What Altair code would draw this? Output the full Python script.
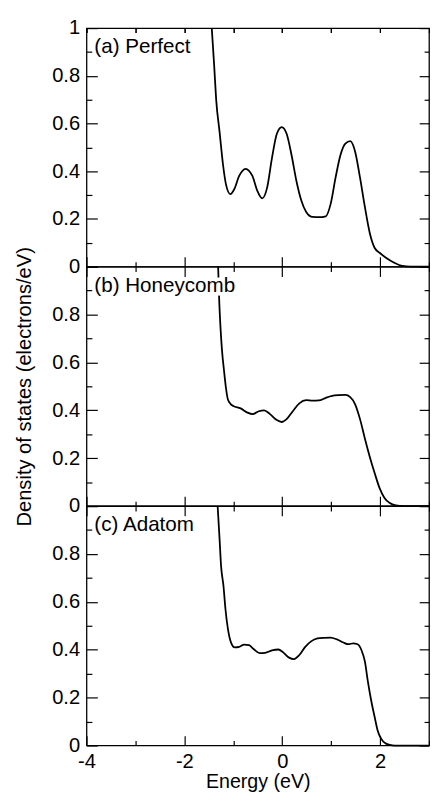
import altair as alt
import pandas as pd

# ---- data ----
E_PERFECT = [-1.44, -1.39, -1.35, -1.28, -1.21, -1.15, -1.06, -0.98, -0.88, -0.75,
             -0.61, -0.51, -0.41, -0.31, -0.21, -0.11, -0.01, 0.09, 0.19, 0.29,
             0.39, 0.49, 0.62, 0.75, 0.89, 0.99, 1.09, 1.19, 1.29, 1.39,
             1.49, 1.59, 1.69, 1.79, 1.89, 1.99, 2.12, 2.29, 2.45, 2.62, 3.0]
DOS_PERFECT = [1.0, 0.84, 0.70, 0.564, 0.427, 0.345, 0.304, 0.325, 0.38, 0.41,
               0.38, 0.318, 0.286, 0.33, 0.455, 0.557, 0.585, 0.557, 0.468, 0.359,
               0.277, 0.229, 0.208, 0.207, 0.211, 0.263, 0.373, 0.468, 0.516, 0.526,
               0.482, 0.373, 0.249, 0.14, 0.078, 0.058, 0.037, 0.016, 0.003, 0.0, 0.0]

E_HONEYCOMB = [-1.31, -1.29, -1.26, -1.23, -1.19, -1.15, -1.11, -1.05, -1.0, -0.85,
               -0.71, -0.6, -0.48, -0.37, -0.25, -0.11, -0.01, 0.09, 0.22, 0.35,
               0.49, 0.62, 0.75, 0.89, 1.02, 1.15, 1.29, 1.39, 1.49, 1.59,
               1.69, 1.79, 1.89, 1.99, 2.09, 2.19, 2.32, 2.49, 3.0]
DOS_HONEYCOMB = [1.0, 0.87, 0.74, 0.648, 0.566, 0.493, 0.445, 0.425, 0.418, 0.408,
                 0.39, 0.384, 0.396, 0.40, 0.384, 0.359, 0.351, 0.363, 0.397, 0.429,
                 0.442, 0.44, 0.441, 0.452, 0.46, 0.463, 0.464, 0.455, 0.425, 0.363,
                 0.281, 0.205, 0.137, 0.075, 0.034, 0.014, 0.003, 0.0, 0.0]

E_ADATOM = [-1.32, -1.28, -1.25, -1.2, -1.16, -1.11, -1.05, -0.97, -0.88, -0.78,
            -0.68, -0.58, -0.46, -0.35, -0.21, -0.08, 0.02, 0.14, 0.24, 0.35,
            0.47, 0.59, 0.72, 0.85, 0.99, 1.12, 1.25, 1.35, 1.45, 1.54,
            1.62, 1.69, 1.75, 1.82, 1.89, 1.95, 2.02, 2.12, 2.25, 2.35, 3.0]
DOS_ADATOM = [1.0, 0.86, 0.75, 0.665, 0.569, 0.487, 0.432, 0.41, 0.412, 0.421,
              0.419, 0.402, 0.386, 0.387, 0.397, 0.401, 0.389, 0.367, 0.361, 0.378,
              0.412, 0.435, 0.447, 0.45, 0.451, 0.443, 0.43, 0.423, 0.427, 0.423,
              0.398, 0.35, 0.268, 0.186, 0.118, 0.063, 0.029, 0.008, 0.001, 0.0, 0.0]

PANEL_LABELS = ["(a) Perfect", "(b) Honeycomb", "(c) Adatom"]
X_TITLE = "Energy (eV)"
Y_TITLE = "Density of states (electrons/eV)"

X_MAJOR = [-4, -2, 0, 2]
X_MINOR = [-3, -1, 1, 3]
X_ALL = [-4, -3, -2, -1, 0, 1, 2, 3]
Y_MAJOR = [0, 0.2, 0.4, 0.6, 0.8, 1]
Y_MINOR = [0.1, 0.3, 0.5, 0.7, 0.9]

FONT = "Liberation Sans"
FS = 21
LFS = 20.5
W = 349
HEIGHTS = [243, 244, 244]

xs = alt.Scale(domain=[-4, 3], nice=False, zero=False)
ys = alt.Scale(domain=[0, 1], nice=False, zero=False)


def tick_axis(orient, values, size):
    return alt.Axis(orient=orient, values=values, tickSize=size, offset=-size,
                    labels=False, domain=False, grid=False, title=None,
                    minExtent=0, maxExtent=200)


def panel(idx, energy, dos, top_label_one, show_x, y_title, x_title):
    df = pd.DataFrame({"E": energy, "DOS": dos})
    base = alt.Chart(df)

    ylabel_expr = "datum.value + ''" if top_label_one else "datum.value > 0.9 ? '' : datum.value + ''"
    x_kw = dict(orient="bottom", values=X_MAJOR, tickSize=10, offset=-10,
                labels=show_x, labelExpr="datum.value + ''", labelPadding=6,
                labelFlush=False, domain=False, grid=False, minExtent=0)
    if x_title:
        x_kw["title"] = x_title
        x_kw["titlePadding"] = 0
        x_kw["titleFontSize"] = 20
    else:
        x_kw["title"] = None
    y_kw = dict(orient="left", values=Y_MAJOR, tickSize=11, offset=-11,
                labels=True, labelExpr=ylabel_expr, labelPadding=7,
                labelFlush=False, domain=False, grid=False, minExtent=0)
    if y_title:
        y_kw["title"] = y_title
        y_kw["titlePadding"] = 18
        y_kw["titleFontSize"] = 20.5
    else:
        y_kw["title"] = None

    line = base.mark_line(color="black", strokeWidth=1.8, interpolate="monotone").encode(
        x=alt.X("E:Q", scale=xs, axis=alt.Axis(**x_kw)),
        y=alt.Y("DOS:Q", scale=ys, axis=alt.Axis(**y_kw)),
    )
    inv1 = base.mark_line(strokeOpacity=0).encode(
        x=alt.X("E:Q", scale=xs, axis=tick_axis("bottom", X_MINOR, 5)),
        y=alt.Y("DOS:Q", scale=ys, axis=tick_axis("left", Y_MINOR, 5.5)),
    )
    if idx == 0:
        top_major = tick_axis("top", X_ALL, 4.5)
        top_minor = tick_axis("top", X_ALL, 4.5)
    else:
        top_major = tick_axis("top", X_MAJOR, 10)
        top_minor = tick_axis("top", X_MINOR, 5)
    inv2 = base.mark_line(strokeOpacity=0).encode(
        x=alt.X("E:Q", scale=xs, axis=top_major),
        y=alt.Y("DOS:Q", scale=ys, axis=tick_axis("right", Y_MAJOR, 10)),
    )
    inv3 = base.mark_line(strokeOpacity=0).encode(
        x=alt.X("E:Q", scale=xs, axis=top_minor),
        y=alt.Y("DOS:Q", scale=ys, axis=tick_axis("right", Y_MINOR, 5)),
    )

    lab_df = pd.DataFrame({"x": [-3.84], "y": [0.92], "t": [PANEL_LABELS[idx]]})
    lab = alt.Chart(lab_df)
    halo = lab.mark_text(align="left", baseline="middle", font=FONT, fontSize=FS,
                         color="white", stroke="white", strokeWidth=7).encode(
        x=alt.X("x:Q", scale=xs, axis=None),
        y=alt.Y("y:Q", scale=ys, axis=None),
        text="t:N",
    )
    txt = lab.mark_text(align="left", baseline="middle", font=FONT, fontSize=FS,
                        color="black").encode(
        x=alt.X("x:Q", scale=xs, axis=None),
        y=alt.Y("y:Q", scale=ys, axis=None),
        text="t:N",
    )
    return alt.layer(line, inv1, inv2, inv3, halo, txt).resolve_axis(
        x="independent", y="independent"
    ).properties(width=W, height=HEIGHTS[idx])


pa = panel(0, E_PERFECT, DOS_PERFECT, True, False, None, None)
pb = panel(1, E_HONEYCOMB, DOS_HONEYCOMB, False, False, Y_TITLE, None)
pc = panel(2, E_ADATOM, DOS_ADATOM, False, True, None, X_TITLE)

# with autosize "none" the padding sets the page room around the panels
PAD_L, PAD_T, PAD_R, PAD_B = 80, 13, 1, 778

chart = alt.vconcat(pa, pb, pc, spacing=0, bounds="flush").properties(
    autosize=alt.AutoSizeParams(type="none"),
    padding={"left": PAD_L, "top": PAD_T, "right": PAD_R, "bottom": PAD_B},
).configure_axis(
    labelFont=FONT, labelFontSize=LFS, labelColor="black",
    titleFont=FONT, titleFontSize=FS, titleFontWeight="normal", titleColor="black",
    tickColor="black", tickWidth=1.2, minExtent=0,
).configure_view(stroke="black", strokeWidth=1.3)

chart.save("out.html", embed_options={"renderer": "svg", "actions": False})
